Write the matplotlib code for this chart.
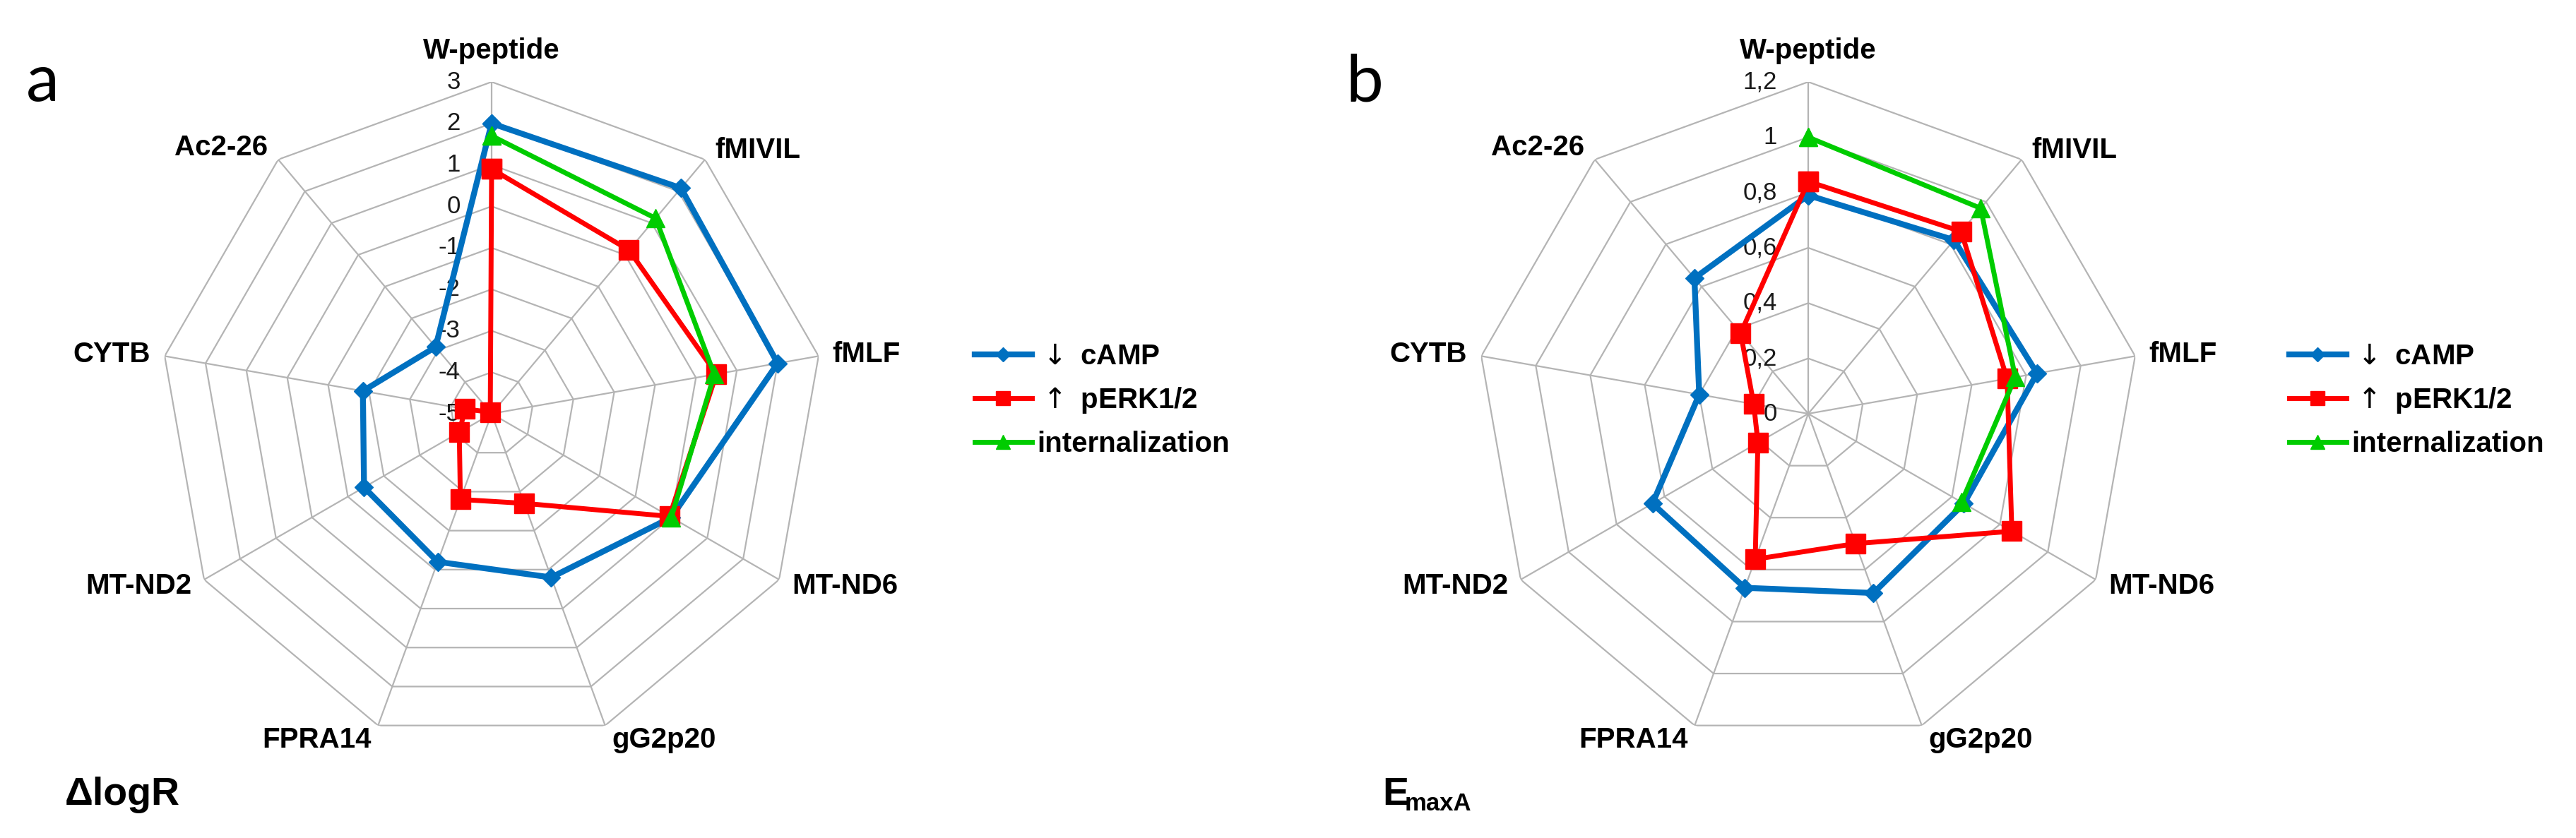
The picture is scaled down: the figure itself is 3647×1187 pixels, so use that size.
import numpy as np
import matplotlib
matplotlib.use("Agg")
import matplotlib.pyplot as plt

plt.rcParams['font.family'] = ['Liberation Sans', 'DejaVu Sans']

# data
categories = ['W-peptide', 'fMIVIL', 'fMLF', 'MT-ND6', 'gG2p20',
              'FPRA14', 'MT-ND2', 'CYTB', 'Ac2-26']

# panel a: delta logR
logr_camp = [2.0, 2.1, 2.0, 0.0, -0.8, -1.2, -1.45, -1.85, -2.9]
logr_perk = [0.9, 0.15, 0.5, -0.05, -2.7, -2.8, -4.1, -4.35, -4.95]
logr_int = [1.7, 1.15, 0.45, 0.0, np.nan, np.nan, np.nan, np.nan, np.nan]
logr_ticks = [3, 2, 1, 0, -1, -2, -3, -4, -5]
logr_ticklabels = ['3', '2', '1', '0', '-1', '-2', '-3', '-4', '-5']

# panel b: EmaxA
emax_camp = [0.79, 0.82, 0.84, 0.65, 0.69, 0.67, 0.65, 0.40, 0.64]
emax_perk = [0.84, 0.86, 0.73, 0.85, 0.50, 0.56, 0.21, 0.20, 0.38]
emax_int = [1.0, 0.97, 0.76, 0.64, np.nan, np.nan, np.nan, np.nan, np.nan]
emax_ticks = [1.2, 1.0, 0.8, 0.6, 0.4, 0.2, 0.0]
emax_ticklabels = ['1,2', '1', '0,8', '0,6', '0,4', '0,2', '0']

series_names = ['$\\downarrow$ cAMP', '$\\uparrow$ pERK1/2', 'internalization']
colors = ['#0070C0', '#FF0000', '#00CC00']
markers = ['D', 's', '^']
msizes = [13, 20, 19]
lws = [6, 5, 5]

W, H = 3648, 1187
fig = plt.figure(figsize=(W / 100, H / 100), dpi=100, facecolor='white')

angles = np.linspace(0, 2 * np.pi, len(categories), endpoint=False)
closed = np.append(angles, angles[0])

# label offsets in points (dx, dy, ha)
label_pos = [(0, 31.7, 'center'), (10, 9.4, 'left'), (14.4, 1.4, 'left'),
             (13, -6.5, 'left'), (7.2, -15, 'left'), (-7.2, -15, 'right'),
             (-13, -6.5, 'right'), (-14.4, 1.4, 'right'), (-10.8, 12.2, 'right')]


def radar(cx, ticks, ticklabels, data):
    R = 470
    cy = 586
    ax = fig.add_axes([(cx - R) / W, (H - cy - R) / H, 2 * R / W, 2 * R / H],
                      projection='polar')
    ax.set_theta_zero_location('N')
    ax.set_theta_direction(-1)
    rmin, rmax = min(ticks), max(ticks)
    ax.set_ylim(rmin, rmax)
    ax.set_xticks([])
    ax.set_yticks([])
    ax.grid(False)
    ax.spines['polar'].set_visible(False)
    ax.patch.set_alpha(0)

    # polygon grid
    for v in ticks:
        if v == rmin:
            continue
        ax.plot(closed, [v] * len(closed), color='#B4B4B4', lw=1.6, zorder=1)
    for a in angles:
        ax.plot([a, a], [rmin, rmax], color='#B4B4B4', lw=1.6, zorder=1)

    for v, t in zip(ticks, ticklabels):
        ax.annotate(t, xy=(0, v), xytext=(-32, 0), textcoords='offset points',
                    ha='right', va='center', fontsize=25, color='#1a1a1a')

    for name, (dx, dy, ha), a in zip(categories, label_pos, angles):
        ax.annotate(name, xy=(a, rmax), xytext=(dx, dy), textcoords='offset points',
                    ha=ha, va='center', fontsize=29, fontweight='bold')

    handles = []
    for vals, c, m, ms, lw in zip(data, colors, markers, msizes, lws):
        v = np.append(vals, vals[0])
        h, = ax.plot(closed, v, color=c, lw=lw, marker=m, markersize=ms,
                     markeredgecolor=c, markerfacecolor=c, clip_on=False, zorder=3)
        handles.append(h)
    return ax, handles


ax1, h1 = radar(696, logr_ticks, logr_ticklabels, [logr_camp, logr_perk, logr_int])
ax2, h2 = radar(2560, emax_ticks, emax_ticklabels, [emax_camp, emax_perk, emax_int])

for handles, x0 in [(h1, 1380), (h2, 3241)]:
    leg = fig.legend(handles, series_names, loc='upper left',
                     bbox_to_anchor=(x0 / W, (H - 486) / H), frameon=False,
                     prop={'size': 29, 'weight': 'bold'}, handlelength=2.0,
                     handletextpad=0.2, labelspacing=0.55, borderpad=0,
                     borderaxespad=0, markerscale=0.75)

# panel letters and axis titles
fig.text(37 / W, (H - 143) / H, 'a', fontsize=68, family='Lato', va='baseline')
fig.text(1905 / W, (H - 143) / H, 'b', fontsize=68, family='Lato', va='baseline')
fig.text(92 / W, (H - 1140) / H, '\u0394logR', fontsize=40, fontweight='bold', va='baseline')
fig.text(1957 / W, (H - 1140) / H, 'E', fontsize=40, fontweight='bold', va='baseline')
fig.text(1989 / W, (H - 1148) / H, 'maxA', fontsize=25, fontweight='bold', va='baseline')

fig.savefig('out.png', dpi=100, facecolor='white')
